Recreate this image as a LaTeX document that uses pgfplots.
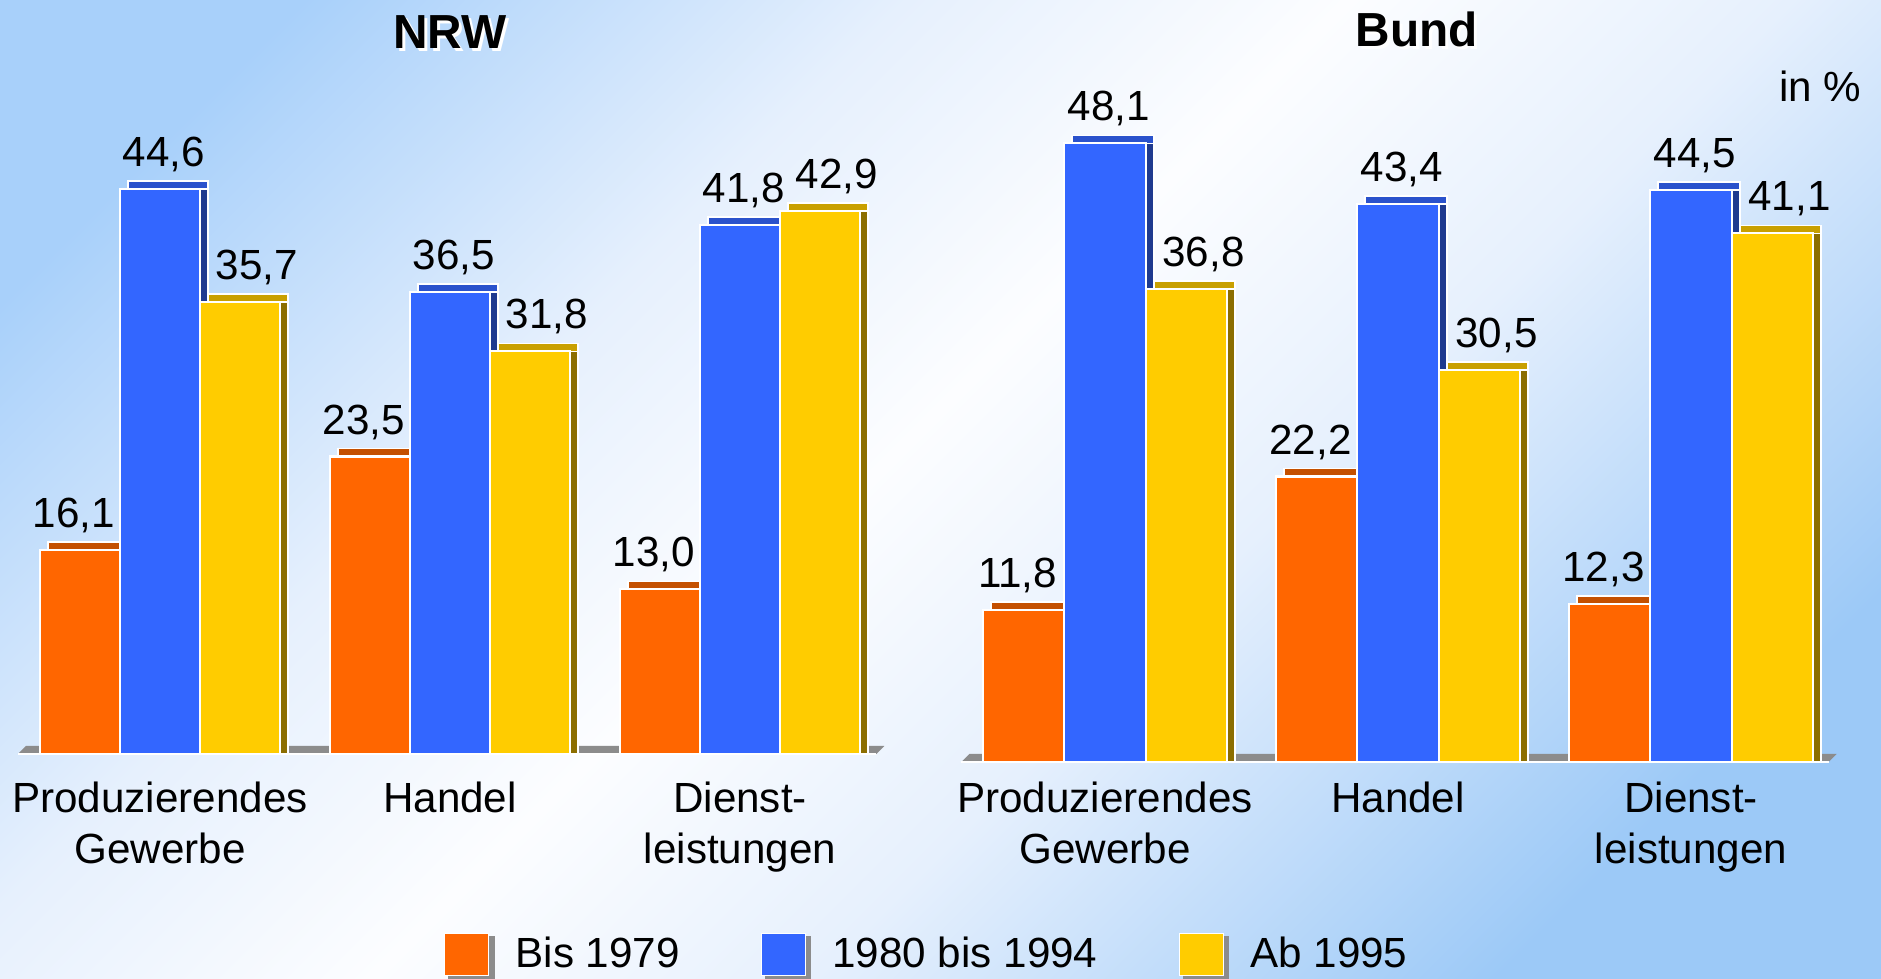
\documentclass[border=0pt]{standalone}
\usepackage{fontspec}
\setmainfont{Liberation Sans}
\usepackage{pgfplots}
\usepackage{pgfplotstable}
\pgfplotsset{compat=1.18}

\definecolor{cOr}{HTML}{FF6600}
\definecolor{cOrTop}{HTML}{C45000}
\definecolor{cOrSide}{HTML}{993D00}
\definecolor{cBl}{HTML}{3366FF}
\definecolor{cBlTop}{HTML}{2A52CC}
\definecolor{cBlSide}{HTML}{1F3A8F}
\definecolor{cYe}{HTML}{FFCC00}
\definecolor{cYeTop}{HTML}{C9A000}
\definecolor{cYeSide}{HTML}{8C6E00}
\definecolor{bgBlueA}{HTML}{A8D0FA}
\definecolor{bgBlueB}{HTML}{9CC9F7}
\definecolor{bgPale}{HTML}{E6F0FD}
\definecolor{bgWhite}{HTML}{FCFDFF}
\definecolor{floor}{HTML}{8C8C8C}

% diagonal background: blue top-left and bottom-right corners, white middle
\pgfdeclareverticalshading{bgshade}{100bp}{%
  color(0bp)=(bgBlueB); color(24bp)=(bgBlueB); color(41bp)=(bgPale);
  color(52bp)=(bgWhite); color(63bp)=(bgPale); color(78bp)=(bgBlueA);
  color(100bp)=(bgBlueA)}

\newcommand\lbl{\fontsize{12}{14.5}\selectfont}
\newcommand\ttl{\fontsize{13.6}{16}\selectfont\bfseries}
\newcommand\shadowed[1]{\rlap{\raisebox{-0.7pt}{\hspace{0.8pt}\color{white}#1}}#1}
\def\dd{0.08cm}

% shares by founding period, in %
\pgfplotstableread{
x nrwA nrwB nrwC bundA bundB bundC
0 16.1 44.6 35.7 11.8 48.1 36.8
1 23.5 36.5 31.8 22.2 43.4 30.5
2 13.0 41.8 42.9 12.3 44.5 41.1
}\data

\pgfplotsset{
  panel/.style={
    ybar, clip=false, anchor=south west,
    xmin=-0.5, xmax=2.5, ymin=0, ymax=50,
    axis line style={draw=none}, major tick length=0pt,
    ytick=\empty, xtick={0,1,2},
    xticklabels={{Produzierendes\\Gewerbe},Handel,{Dienst-\\leistungen}},
    xticklabel style={align=center, anchor=north, inner sep=0pt, yshift=-0.27cm, font=\lbl},
    title style={font=\ttl, anchor=base, at={(0.5,1)}, yshift=0.51cm},
    nodes near coords style={anchor=south, inner sep=0pt, yshift=0.16cm, font=\lbl, text=black},
    legend image code/.code={%
      \fill[floor] (0.05cm,-0.25cm) rectangle (0.49cm,0.17cm);
      \draw[##1, draw=white, line width=0.4pt] (0cm,-0.21cm) rectangle (0.44cm,0.21cm);},
    /pgf/number format/assume math mode=true,
    /pgf/number format/use comma,
    /pgf/number format/fixed,
    /pgf/number format/fixed zerofill,
    /pgf/number format/precision=1,
  },
}

% one series: top face, side face, front face
% #1 column, #2 shift, #3 front, #4 side, #5 top, #6 width, #7 label offset
\newcommand\barset[7]{%
  \addplot[forget plot, fill=#5, draw=white, line width=0.5pt, bar width=#6, bar shift={#2+\dd}, yshift=\dd] table[x=x,y=#1]{\data};
  \addplot[forget plot, fill=#4, draw=white, line width=0.5pt, bar width=#6, bar shift={#2+\dd}] table[x=x,y=#1]{\data};
  \addplot[fill=#3, draw=white, line width=0.6pt, bar width=#6, bar shift=#2, nodes near coords,
    every node near coord/.append style={xshift=#7}] table[x=x,y=#1]{\data};
}
\newcommand\floorstrip{%
  \fill[floor] (axis cs:-0.49,0) -- (axis cs:2.47,0) -- ([shift={(\dd,\dd)}]axis cs:2.47,0)
    -- ([shift={(\dd,\dd)}]axis cs:-0.49,0) -- cycle;
  \draw[white, line width=0.6pt] (axis cs:-0.49,0) -- (axis cs:2.47,0);
}

\begin{document}
\begin{tikzpicture}
\shade[shading=bgshade, shading angle=45] (0,0) rectangle (18.81,9.79);

\begin{axis}[panel, x=2.9cm, y=0.1266cm, at={(0.15cm,2.25cm)}, title={\shadowed{NRW}},
  legend style={draw=none, fill=none, inner sep=0pt, legend columns=3, font=\lbl,
    at={(0.492,-0.3175)}, anchor=west,
    /tikz/every odd column/.append style={column sep=0.14cm},
    /tikz/every even column/.append style={column sep=0.74cm}}]
\floorstrip
\barset{nrwA}{-0.80cm}{cOr}{cOrSide}{cOrTop}{0.80cm}{-0.06cm}
\barset{nrwB}{0cm}{cBl}{cBlSide}{cBlTop}{0.80cm}{0.04cm}
\barset{nrwC}{0.80cm}{cYe}{cYeSide}{cYeTop}{0.80cm}{0.17cm}
\legend{Bis 1979, 1980 bis 1994, Ab 1995}
\end{axis}

\begin{axis}[panel, x=2.93cm, y=0.1286cm, at={(9.585cm,2.17cm)}, title={\shadowed{Bund}},
  title style={xshift=0.19cm}, xticklabel style={yshift=0.08cm}]
\floorstrip
\barset{bundA}{-0.815cm}{cOr}{cOrSide}{cOrTop}{0.815cm}{-0.06cm}
\barset{bundB}{0cm}{cBl}{cBlSide}{cBlTop}{0.815cm}{0.04cm}
\barset{bundC}{0.815cm}{cYe}{cYeSide}{cYeTop}{0.815cm}{0.17cm}
\end{axis}

\node[anchor=base east, font=\lbl, inner sep=0pt] at (18.62,8.77) {in \%};
\pgfresetboundingbox
\path[use as bounding box] (0,0) rectangle (18.81,9.79);
\end{tikzpicture}
\end{document}
